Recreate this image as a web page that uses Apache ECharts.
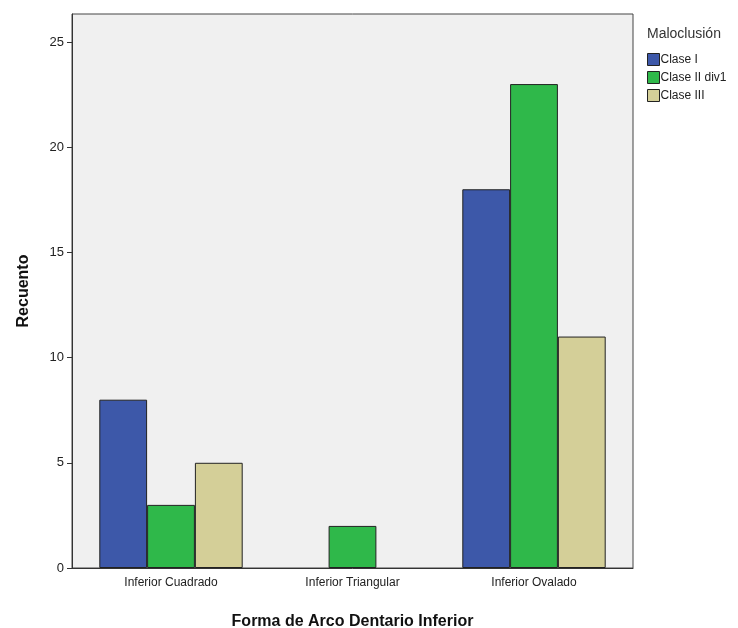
<!DOCTYPE html>
<html><head><meta charset="utf-8">
<script src="https://cdn.jsdelivr.net/npm/echarts@6/dist/echarts.min.js"></script>
<style>html,body{margin:0;padding:0;background:#fff}#c{width:738px;height:628px}</style>
</head><body><div id="c"></div>
<script>
const categories = ['Inferior Cuadrado', 'Inferior Triangular', 'Inferior Ovalado'];
const seriesNames = ['Clase I', 'Clase II div1', 'Clase III'];
const claseI = [8, null, 18];
const claseIIdiv1 = [3, 2, 23];
const claseIII = [5, null, 11];
const yTicks = [0, 5, 10, 15, 20, 25];
const colors = ['#3d58a9', '#2fb84a', '#d4cf98'];
const FONT = '"Liberation Sans", Arial, sans-serif';

const chart = echarts.init(document.getElementById('c'));
const data = [claseI, claseIIdiv1, claseIII];
const YMAX = 26.33;
chart.setOption({
  animation: false,
  textStyle: { fontFamily: FONT },
  title: { text: 'Maloclusión', left: 642, top: 22, textStyle: { fontSize: 14, fontWeight: 'normal', color: '#333', fontFamily: FONT } },
  legend: {
    orient: 'vertical', left: 642, top: 48, itemGap: 5, itemWidth: 12, itemHeight: 12,
    icon: 'rect',
    data: seriesNames,
    itemStyle: { borderColor: '#222', borderWidth: 1 },
    textStyle: { fontSize: 12, color: '#222', padding: [0, 0, 0, -4], fontFamily: FONT }
  },
  grid: [
    { left: 72, right: 105, top: 14, bottom: 60, containLabel: false, outerBoundsMode: 'none', show: true, backgroundColor: '#f0f0f0', borderColor: '#444', borderWidth: 1 },
    { left: 80.25, right: 113.25, top: 14, bottom: 60, containLabel: false, outerBoundsMode: 'none' }
  ],
  xAxis: [
    {
      gridIndex: 0, type: 'value', min: 0, max: 1, show: true,
      name: 'Forma de Arco Dentario Inferior', nameLocation: 'middle', nameGap: 46,
      nameTextStyle: { fontSize: 16, fontWeight: 'bold', color: '#111', fontFamily: FONT },
      axisLine: { lineStyle: { color: '#333', width: 1 } },
      axisTick: { show: false }, axisLabel: { show: false }, splitLine: { show: false }
    },
    {
      gridIndex: 1, type: 'category', data: categories,
      axisLine: { show: false },
      axisTick: { alignWithLabel: true, length: 5, lineStyle: { color: '#333' } },
      axisLabel: { fontSize: 12, color: '#222', margin: 9 }
    }
  ],
  yAxis: [
    {
      gridIndex: 0, type: 'value', min: 0, max: YMAX, interval: 5,
      name: 'Recuento', nameLocation: 'middle', nameGap: 40, nameRotate: 90,
      nameTextStyle: { fontSize: 16, fontWeight: 'bold', color: '#111', fontFamily: FONT },
      splitLine: { show: false },
      axisLine: { show: true, lineStyle: { color: '#333', width: 1 } },
      axisTick: { show: true, length: 5, lineStyle: { color: '#333' } },
      axisLabel: { fontSize: 13, color: '#222', margin: 8, showMaxLabel: false,
        formatter: v => (yTicks.indexOf(v) >= 0 ? String(v) : '') }
    },
    { gridIndex: 1, type: 'value', min: 0, max: YMAX, show: false, splitLine: { show: false } }
  ],
  series: seriesNames.map((n, i) => ({
    name: n, type: 'bar', data: data[i], xAxisIndex: 1, yAxisIndex: 1,
    barGap: '0%', barCategoryGap: '21%',
    itemStyle: { color: colors[i], borderColor: '#222', borderWidth: 1 }
  }))
});
</script></body></html>
